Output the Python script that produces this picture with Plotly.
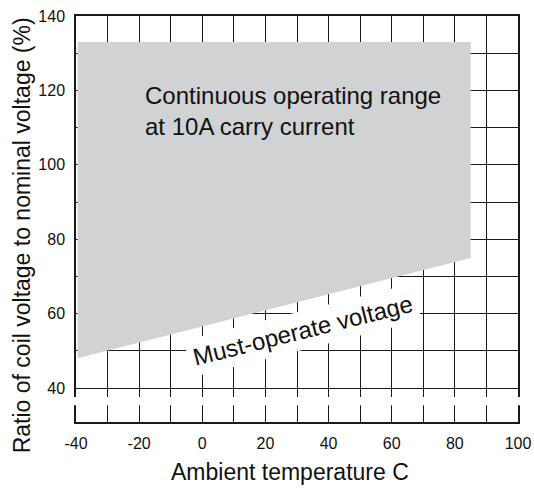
import plotly.graph_objects as go

# Operating region (temperature C, ratio %)
region_temp = [-39.5, 85, 85, -39.5, -39.5]
region_ratio = [133, 133, 75, 48, 133]

x_ticks = [-40, -30, -20, -10, 0, 10, 20, 30, 40, 50, 60, 70, 80, 90, 100]
x_labels = ["-40", "", "-20", "", "0", "", "20", "", "40", "", "60", "", "80", "", "100"]
y_ticks = [40, 50, 60, 70, 80, 90, 100, 110, 120, 130, 140]
y_labels = ["40", "", "60", "", "80", "", "100", "", "120", "", "140"]

FONT = "Liberation Sans, Arial, sans-serif"
LINE = "#1a1a1a"

fig = go.Figure()
fig.add_trace(go.Scatter(
    x=region_temp, y=region_ratio, mode="lines", fill="toself",
    fillcolor="#d1d2d4", line=dict(width=0, color="#d1d2d4"),
    hoverinfo="skip", showlegend=False))

fig.update_layout(
    width=534, height=490,
    margin=dict(l=76, r=16, t=16, b=68),
    paper_bgcolor="white", plot_bgcolor="white",
    font=dict(family=FONT, color="#111", size=16),
    showlegend=False,
    xaxis=dict(range=[-40, 100], tickvals=x_ticks, ticktext=x_labels,
               showgrid=True, gridcolor=LINE, gridwidth=1.2,
               showline=True, linecolor=LINE, linewidth=1.5, mirror=True,
               ticks="", zeroline=False, ticklabelstandoff=6, automargin=False,
               ticklabeloverflow="allow",
               tickfont=dict(size=16, family=FONT)),
    yaxis=dict(range=[30.9, 140], tickvals=y_ticks, ticktext=y_labels,
               showgrid=True, gridcolor=LINE, gridwidth=1.2,
               showline=True, linecolor=LINE, linewidth=1.5, mirror=True,
               ticks="", zeroline=False, ticklabelstandoff=6, automargin=False,
               ticklabeloverflow="allow",
               tickfont=dict(size=16, family=FONT)),
)

# axis break (white band)
fig.add_shape(type="rect", xref="paper", yref="y", x0=-0.02, x1=1.02,
              y0=35.4, y1=37.6, fillcolor="white", line=dict(width=0),
              layer="above")

fig.add_annotation(x=-18.8, y=122.7, xref="x", yref="y",
                   text="Continuous operating range<br>at 10A carry current",
                   showarrow=False, xanchor="left", yanchor="top", align="left",
                   font=dict(size=24, family=FONT, color="#111"))

fig.add_annotation(x=31.6, y=55.6, xref="x", yref="y",
                   text="Must-operate voltage", textangle=-14,
                   showarrow=False, bgcolor="white", borderpad=5,
                   font=dict(size=24, family=FONT, color="#111"))

fig.add_annotation(x=-0.122, y=0.46, xref="paper", yref="paper",
                   xanchor="center", yanchor="middle",
                   text="Ratio of coil voltage to nominal voltage (%)",
                   textangle=-90, showarrow=False,
                   font=dict(size=23, family=FONT, color="#111"))

fig.add_annotation(x=0.485, y=-0.123, xref="paper", yref="paper",
                   xanchor="center", yanchor="middle",
                   text="Ambient temperature C", showarrow=False,
                   font=dict(size=23, family=FONT, color="#111"))

fig.write_html("out.html",
               config={"displayModeBar": False},
               post_script="document.body.style.margin='0';"
                           "document.body.style.overflow='hidden';")
